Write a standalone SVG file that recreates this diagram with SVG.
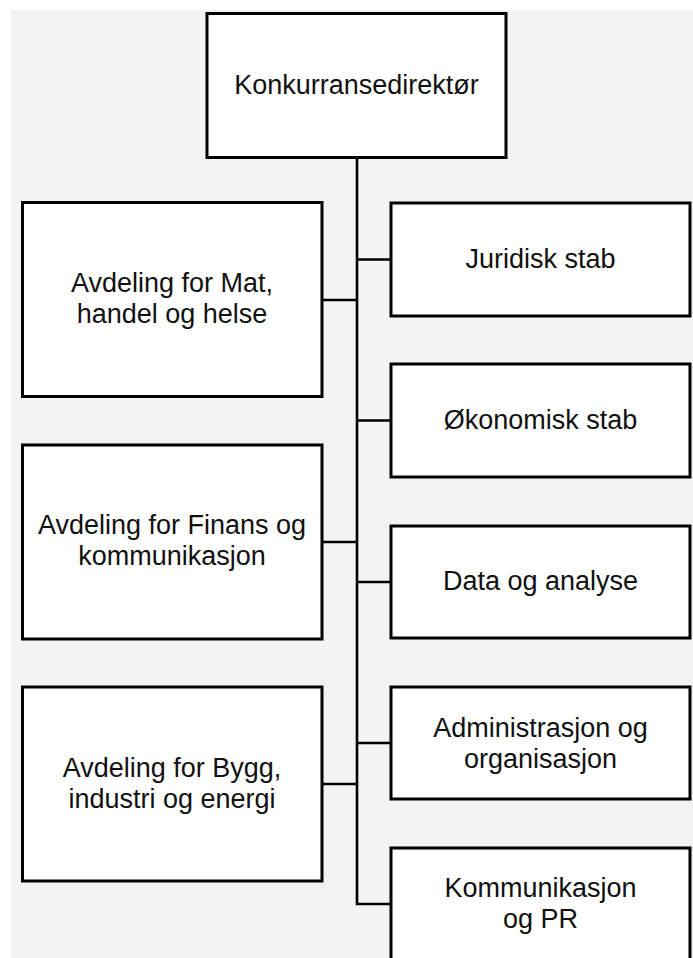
<svg xmlns="http://www.w3.org/2000/svg" width="693" height="958" viewBox="0 0 693 958">
  <style>
    .box { fill: #ffffff; stroke: #000000; stroke-width: 3; }
    .conn { fill: none; stroke: #000000; stroke-width: 2.6; }
    .lbl { font-family: "Liberation Sans", Arial, sans-serif; font-size: 27px; fill: #111111; text-anchor: middle; }
  </style>
  <rect x="0" y="0" width="693" height="958" fill="#ffffff"/>
  <rect x="11" y="10" width="682" height="948" fill="#f3f3f3"/>

  <g id="connectors">
    <path class="conn" d="M357 157 V904 H391"/>
    <path class="conn" d="M322 300 H357"/>
    <path class="conn" d="M322 542 H357"/>
    <path class="conn" d="M322 784 H357"/>
    <path class="conn" d="M357 259.5 H391"/>
    <path class="conn" d="M357 420.5 H391"/>
    <path class="conn" d="M357 582 H391"/>
    <path class="conn" d="M357 743 H391"/>
  </g>

  <g id="node-direktor">
    <rect class="box" x="207" y="13.5" width="299" height="144"/>
    <text class="lbl" x="356.5" y="94">Konkurransedirektør</text>
  </g>

  <g id="node-mat">
    <rect class="box" x="22.5" y="202.5" width="299.5" height="194"/>
    <text class="lbl" x="172" y="292">Avdeling for Mat,</text>
    <text class="lbl" x="172" y="323">handel og helse</text>
  </g>

  <g id="node-finans">
    <rect class="box" x="22.5" y="445" width="299.5" height="194"/>
    <text class="lbl" x="172" y="534">Avdeling for Finans og</text>
    <text class="lbl" x="172" y="565">kommunikasjon</text>
  </g>

  <g id="node-bygg">
    <rect class="box" x="22.5" y="687" width="299.5" height="194"/>
    <text class="lbl" x="172" y="777">Avdeling for Bygg,</text>
    <text class="lbl" x="172" y="808">industri og energi</text>
  </g>

  <g id="node-juridisk">
    <rect class="box" x="391" y="203" width="299" height="113"/>
    <text class="lbl" x="540.5" y="268">Juridisk stab</text>
  </g>

  <g id="node-okonomisk">
    <rect class="box" x="391" y="364" width="299" height="113"/>
    <text class="lbl" x="540.5" y="429">Økonomisk stab</text>
  </g>

  <g id="node-data">
    <rect class="box" x="391" y="526" width="299" height="112"/>
    <text class="lbl" x="540.5" y="590">Data og analyse</text>
  </g>

  <g id="node-admin">
    <rect class="box" x="391" y="687" width="299" height="112"/>
    <text class="lbl" x="540.5" y="737">Administrasjon og</text>
    <text class="lbl" x="540.5" y="768">organisasjon</text>
  </g>

  <g id="node-kommunikasjon">
    <rect class="box" x="391" y="848" width="299" height="113"/>
    <text class="lbl" x="540.5" y="897">Kommunikasjon</text>
    <text class="lbl" x="540.5" y="928">og PR</text>
  </g>
</svg>
